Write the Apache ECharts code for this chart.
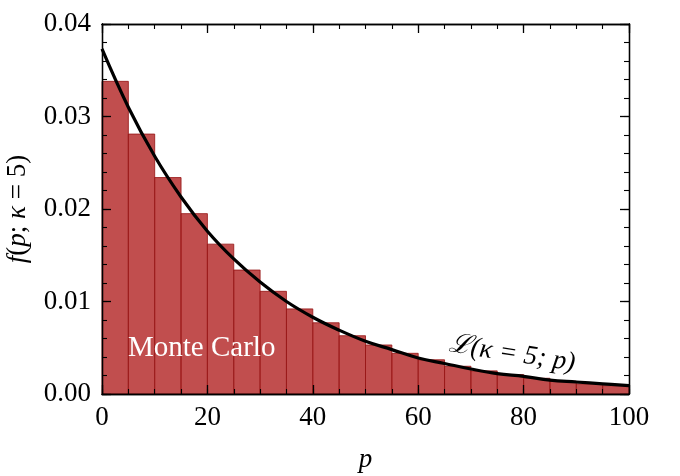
<!DOCTYPE html>
<html>
<head>
<meta charset="utf-8">
<script src="https://cdn.jsdelivr.net/npm/echarts@6/dist/echarts.min.js"></script>
<style>
  html, body { margin: 0; padding: 0; background: #fff; }
  #chart { width: 680px; height: 476px; }
</style>
</head>
<body>
<div id="chart"></div>
<script>
// histogram bins (width 5) and Monte Carlo densities
const binEdges = [0, 5, 10, 15, 20, 25, 30, 35, 40, 45, 50, 55, 60, 65, 70, 75, 80, 85, 90, 95, 100];
const mcDensity = [0.0338, 0.0281, 0.0234, 0.0195, 0.0162, 0.0134, 0.0111, 0.0092, 0.0077, 0.0063,
                   0.0053, 0.0044, 0.0037, 0.0030, 0.0025, 0.0021, 0.0017, 0.0014, 0.0011, 0.0009];
// likelihood curve
const curveP = [0, 5, 10, 15, 20, 25, 30, 35, 40, 45, 50, 55, 60, 65, 70, 75, 80, 85, 90, 95, 100];
const curveF = [0.0373, 0.0310, 0.0257, 0.0213, 0.0176, 0.0146, 0.0121, 0.0100, 0.0083, 0.0069,
                0.0057, 0.0048, 0.0039, 0.0033, 0.0027, 0.0022, 0.0019, 0.0015, 0.0013, 0.0011, 0.0009];
const yTicks = ['0.00', '0.01', '0.02', '0.03', '0.04'];

const serif = '"Liberation Serif", "DejaVu Serif", serif';
const chart = echarts.init(document.getElementById('chart'));

const bars = mcDensity.map((v, i) => [binEdges[i], binEdges[i + 1], v]);
const line = curveP.map((p, i) => [p, curveF[i]]);

// frame axis with inward ticks drawn over the bars; grid 1 carries the short minor ticks
// (onZero off, otherwise the top/right axes get pulled onto the zero line)
function frameAxis(extra, tickLen) {
  return Object.assign({
    z: 10,
    axisLine: { show: true, onZero: false, lineStyle: { color: '#000', width: 1.3 } },
    axisTick: { show: true, inside: true, length: tickLen, lineStyle: { color: '#000', width: tickLen > 6 ? 1.3 : 1.1 } },
    splitLine: { show: false },
    axisLabel: { show: false }
  }, extra);
}

const gridBox = { left: 102, right: 51, top: 24, bottom: 82, outerBoundsMode: 'none', containLabel: false };

const option = {
  animation: false,
  backgroundColor: '#fff',
  grid: [gridBox, Object.assign({}, gridBox)],
  xAxis: [
    frameAxis({
      type: 'value', gridIndex: 0, min: 0, max: 100, interval: 20, position: 'bottom',
      axisLabel: { color: '#000', fontFamily: serif, fontSize: 27, margin: 10 },
      name: 'p', nameLocation: 'middle', nameGap: 52,
      nameTextStyle: { color: '#000', fontFamily: serif, fontSize: 27, fontStyle: 'italic' }
    }, 9),
    frameAxis({ type: 'value', gridIndex: 0, min: 0, max: 100, interval: 20, position: 'top' }, 9),
    frameAxis({ type: 'value', gridIndex: 1, min: 0, max: 100, interval: 5, position: 'bottom' }, 5),
    frameAxis({ type: 'value', gridIndex: 1, min: 0, max: 100, interval: 5, position: 'top' }, 5)
  ],
  yAxis: [
    frameAxis({
      type: 'value', gridIndex: 0, min: 0, max: 0.04, interval: 0.01, position: 'left',
      axisLabel: {
        color: '#000', fontFamily: serif, fontSize: 27, margin: 11,
        formatter: (v) => yTicks[Math.round(v / 0.01)]
      },
      name: '{i|f}({i|p}; {i|κ} = 5)', nameLocation: 'middle', nameGap: 71, nameRotate: 90,
      nameTextStyle: {
        color: '#000', fontFamily: serif, fontSize: 27,
        rich: { i: { fontStyle: 'italic', fontFamily: serif, fontSize: 27, color: '#000' } }
      }
    }, 9),
    frameAxis({ type: 'value', gridIndex: 0, min: 0, max: 0.04, interval: 0.01, position: 'right' }, 9),
    frameAxis({ type: 'value', gridIndex: 1, min: 0, max: 0.04, interval: 0.002, position: 'left' }, 5),
    frameAxis({ type: 'value', gridIndex: 1, min: 0, max: 0.04, interval: 0.002, position: 'right' }, 5)
  ],
  series: [
    {
      name: 'Monte Carlo',
      type: 'custom',
      xAxisIndex: 0, yAxisIndex: 0,
      data: bars,
      renderItem: function (params, api) {
        const p0 = api.coord([api.value(0), api.value(2)]);
        const p1 = api.coord([api.value(1), 0]);
        return {
          type: 'rect',
          shape: { x: p0[0], y: p0[1], width: p1[0] - p0[0], height: p1[1] - p0[1] },
          style: { fill: 'rgba(178,34,34,0.8)', stroke: 'rgba(150,20,20,0.9)', lineWidth: 0.9 }
        };
      },
      z: 1
    },
    {
      name: 'likelihood',
      type: 'line',
      xAxisIndex: 0, yAxisIndex: 0,
      data: line,
      smooth: 0.4,
      showSymbol: false,
      lineStyle: { color: '#000', width: 3.2 },
      z: 5
    }
  ],
  graphic: [
    {
      type: 'text', left: 128, top: 334, z: 10,
      style: { text: 'Monte Carlo', fill: '#fff', font: '29px ' + serif }
    },
    {
      type: 'text', x: 512, y: 354, rotation: -0.15, z: 10,
      style: {
        text: 'ℒ(κ = 5; p)', fill: '#000', font: 'italic 27px ' + serif,
        align: 'center', verticalAlign: 'middle'
      }
    }
  ]
};

chart.setOption(option);
</script>
</body>
</html>
